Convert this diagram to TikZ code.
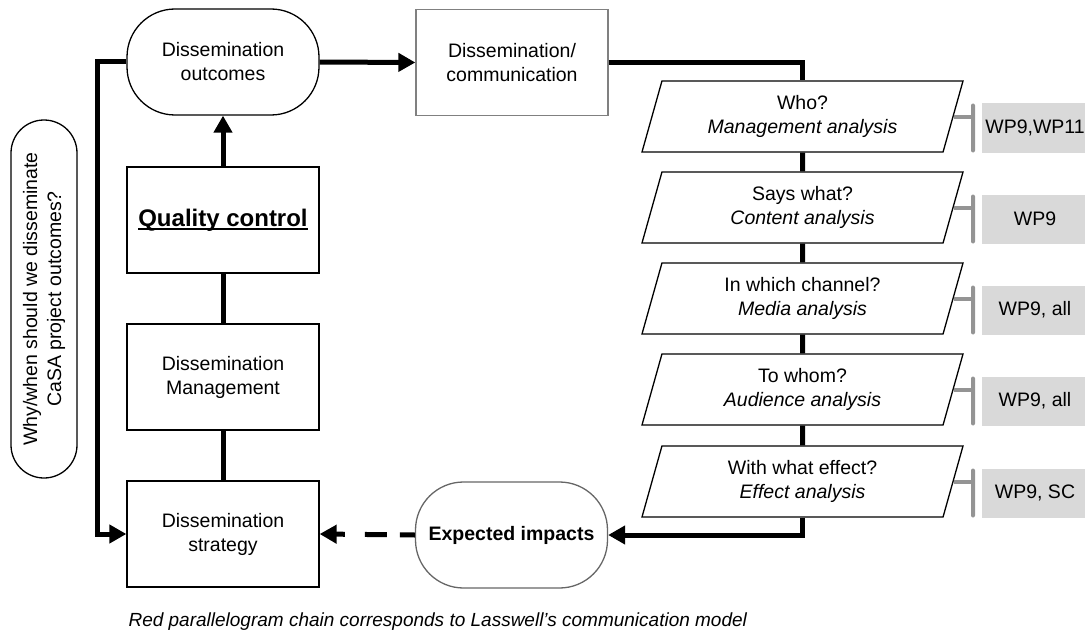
\documentclass[tikz,border=0pt]{standalone}
\usepackage{fontspec}
\setmainfont{Liberation Sans}
\usetikzlibrary{shapes.geometric,arrows.meta}

\newlength\qcwidth
\newcommand{\qcunder}[1]{\settowidth{\qcwidth}{#1}\rlap{\rule[-0.14em]{\qcwidth}{0.075em}}#1}

\begin{document}
\begin{tikzpicture}[x=1pt,y=-1pt,
    font=\fontsize{19.5}{24}\selectfont,
    box/.style={draw,line width=1.3pt,minimum width=192pt,minimum height=106pt,align=center,inner sep=2pt},
    pill/.style={box,rounded corners=48pt},
    lasswell/.style={draw,line width=1.3pt,trapezium,trapezium left angle=65.7,trapezium right angle=114.3,
      trapezium stretches body,minimum width=321pt,minimum height=71pt,align=center,inner sep=1pt},
    wpbox/.style={fill=black!15,minimum width=106pt,minimum height=49pt,inner sep=0pt},
    wpbar/.style={fill=black!42,minimum width=4pt,minimum height=49pt,inner sep=0pt,rounded corners=2pt},
    link/.style={line width=5pt},
    tip/.style={-{Triangle[length=17pt,width=18pt]}},
    stub/.style={line width=4pt,draw=black!42}]
        \useasboundingbox (0,0) rectangle (1085,634);

        % left column
        \node[pill] (outcomes) at (223,62) {Dissemination\\outcomes};
        \node[box,draw=black!50] (comm) at (512,62.5) {Dissemination/\\communication};
        \node[box,font=\fontsize{24}{28}\selectfont\bfseries] (qc) at (223,220) {\qcunder{Quality control}};
        \node[box] (dm) at (223,377) {Dissemination\\Management};
        \node[box] (strat) at (223,534) {Dissemination\\strategy};
        \node[pill,draw=black!60,font=\fontsize{19.5}{24}\selectfont\bfseries] (impact) at (511.5,535) {Expected impacts};
        \node[box,rotate=90,minimum width=358pt,minimum height=66pt,rounded corners=33pt] (why) at (44,299)
          {Why/when should we disseminate\\CaSA project outcomes?};

        % Lasswell chain
        \node[lasswell] (who) at (802.5,116.5) {Who?\\\textit{Management analysis}};
        \node[lasswell] (what) at (802.5,207.5) {Says what?\\\textit{Content analysis}};
        \node[lasswell] (channel) at (802.5,298.5) {In which channel?\\\textit{Media analysis}};
        \node[lasswell] (whom) at (802.5,389.5) {To whom?\\\textit{Audience analysis}};
        \node[lasswell] (effect) at (802.5,481.5) {With what effect?\\\textit{Effect analysis}};

        \node[wpbox] (wpwho) at (1035,128) {WP9,WP11};
        \node[wpbox] (wpwhat) at (1035,219) {WP9};
        \node[wpbox] (wpchannel) at (1035,310) {WP9, all};
        \node[wpbox] (wpwhom) at (1035,401) {WP9, all};
        \node[wpbox] (wpeffect) at (1035,493) {WP9, SC};

        \node[wpbar] (barwho) at (973,128) {};
        \node[wpbar] (barwhat) at (973,219) {};
        \node[wpbar] (barchannel) at (973,310) {};
        \node[wpbar] (barwhom) at (973,401) {};
        \node[wpbar] (bareffect) at (973,493) {};

        \draw[stub] (who.east) -- (who.east -| barwho);
        \draw[stub] (what.east) -- (what.east -| barwhat);
        \draw[stub] (channel.east) -- (channel.east -| barchannel);
        \draw[stub] (whom.east) -- (whom.east -| barwhom);
        \draw[stub] (effect.east) -- (effect.east -| bareffect);

        % thick connectors
        \draw[link,tip] (outcomes.east) -- (comm.west);
        \draw[link] (comm.east) -| (who.north);
        \draw[link] (who.south) -- (what.north);
        \draw[link] (what.south) -- (channel.north);
        \draw[link] (channel.south) -- (whom.north);
        \draw[link] (whom.south) -- (effect.north);
        \draw[link,tip] (effect.south) |- (impact.east);
        \draw[link,tip,dash pattern=on 15pt off 13pt on 22pt off 20pt on 40pt] (impact.west) -- (strat.east);
        \draw[link,tip] (outcomes.west) -- ++(-29,0) |- (strat.west);
        \draw[link] (strat.north) -- (dm.south);
        \draw[link] (dm.north) -- (qc.south);
        \draw[link,tip] (qc.north) -- (outcomes.south);

        \node[anchor=west,font=\fontsize{19}{24}\selectfont\itshape] (note) at (125,622)
          {Red parallelogram chain corresponds to Lasswell’s communication model};
      \end{tikzpicture}
\end{document}
